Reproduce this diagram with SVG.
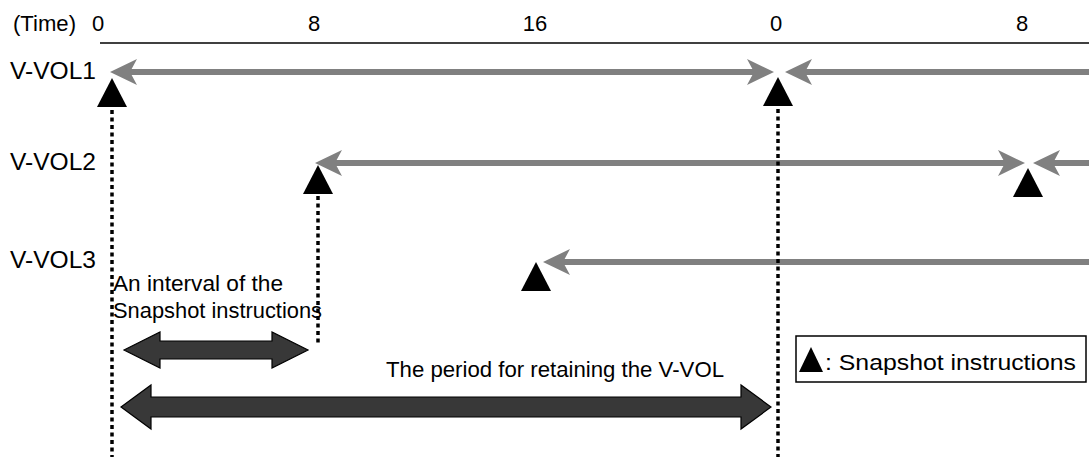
<svg xmlns="http://www.w3.org/2000/svg" width="1089" height="457" viewBox="0 0 1089 457">
<style>
text{font-family:"Liberation Sans",Arial,sans-serif;font-size:22px;fill:#000}
.vl{font-size:23px}
.gl{stroke:#808080;stroke-width:6;fill:none}
.dot{stroke:#000;stroke-width:3.5;stroke-dasharray:4 3.5;fill:none}
.tri{fill:#000}
.blk{fill:#383838;stroke:#000;stroke-width:1.2}
</style>
<defs>
<marker id="hd" markerUnits="userSpaceOnUse" viewBox="-8 -14 30 28" refX="0" refY="0" markerWidth="30" markerHeight="28" orient="auto-start-reverse">
<path d="M-7,-13 L20,0 L-7,13 L0,0 Z" fill="#808080"/>
</marker>
<path id="tr" d="M0,0 L15,29 L-15,29 Z"/>
</defs>
<g id="axis">
<line x1="100" y1="43" x2="1089" y2="43" stroke="#000" stroke-width="1.5"/>
<text x="13" y="31" textLength="63" lengthAdjust="spacingAndGlyphs">(Time)</text>
<text x="98" y="31" text-anchor="middle">0</text>
<text x="314" y="31" text-anchor="middle">8</text>
<text x="535" y="31" text-anchor="middle">16</text>
<text x="776" y="31" text-anchor="middle">0</text>
<text x="1022" y="31" text-anchor="middle">8</text>
</g>
<g id="labels">
<text class="vl" x="10" y="79" textLength="86" lengthAdjust="spacingAndGlyphs">V-VOL1</text>
<text class="vl" x="10" y="170" textLength="86" lengthAdjust="spacingAndGlyphs">V-VOL2</text>
<text class="vl" x="10" y="268" textLength="86" lengthAdjust="spacingAndGlyphs">V-VOL3</text>
</g>
<g id="connectors">
<line class="gl" x1="130" y1="72" x2="754" y2="72" marker-start="url(#hd)" marker-end="url(#hd)"/>
<line class="gl" x1="805" y1="72" x2="1089" y2="72" marker-start="url(#hd)"/>
<line class="gl" x1="335" y1="163" x2="1005" y2="163" marker-start="url(#hd)" marker-end="url(#hd)"/>
<line class="gl" x1="1053" y1="163" x2="1089" y2="163" marker-start="url(#hd)"/>
<line class="gl" x1="563" y1="262" x2="1089" y2="262" marker-start="url(#hd)"/>
<line class="dot" x1="112" y1="110" x2="112" y2="457"/>
<line class="dot" x1="318" y1="196" x2="318" y2="346"/>
<line class="dot" x1="778" y1="109" x2="778" y2="457"/>
</g>
<g id="snapshots">
<use href="#tr" x="112" y="78" class="tri"/>
<use href="#tr" x="318" y="165" class="tri"/>
<use href="#tr" x="536" y="262" class="tri"/>
<use href="#tr" x="778" y="77" class="tri"/>
<use href="#tr" x="1028" y="168" class="tri"/>
</g>
<g id="interval">
<text x="113" y="291" textLength="170" lengthAdjust="spacingAndGlyphs">An interval of the</text>
<text x="113" y="318" textLength="209" lengthAdjust="spacingAndGlyphs">Snapshot instructions</text>
<path class="blk" d="M124,350 L160,332 L160,341 L272,341 L272,332 L308,350 L272,368 L272,359 L160,359 L160,368 Z"/>
</g>
<g id="period">
<text x="386" y="377" textLength="338" lengthAdjust="spacingAndGlyphs">The period for retaining the V-VOL</text>
<path class="blk" d="M121,407 L151,385 L151,397 L741,397 L741,385 L771,407 L741,429 L741,417 L151,417 L151,429 Z"/>
</g>
<g id="legend">
<rect x="796" y="336" width="290" height="46" fill="#fff" stroke="#000" stroke-width="1.5"/>
<path class="tri" d="M811,347 L823,372 L799,372 Z"/>
<text x="825" y="370" textLength="251" lengthAdjust="spacingAndGlyphs">: Snapshot instructions</text>
</g>
</svg>
